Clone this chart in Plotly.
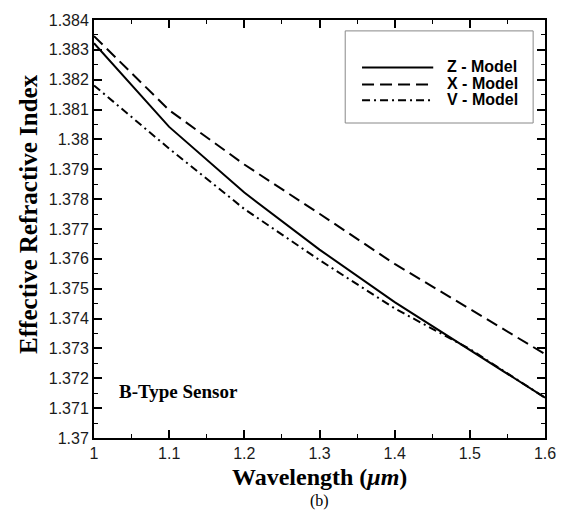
import plotly.graph_objects as go

wavelength = [1.0, 1.1, 1.2, 1.3, 1.4, 1.5, 1.6]
z_model = [1.38322, 1.38042, 1.37822, 1.37631, 1.37455, 1.37294, 1.37135]
x_model = [1.38346, 1.38098, 1.37916, 1.37751, 1.37583, 1.37431, 1.37281]
v_model = [1.38181, 1.37969, 1.37767, 1.37596, 1.37434, 1.37298, 1.37135]

series_names = ["Z - Model", "X - Model", "V - Model"]
series_dash = ["solid", "12px,6px", "8px,4px,2px,4px"]

x_ticks = [1.0, 1.1, 1.2, 1.3, 1.4, 1.5, 1.6]
x_ticklabels = ["1", "1.1", "1.2", "1.3", "1.4", "1.5", "1.6"]
y_ticks = [1.370, 1.371, 1.372, 1.373, 1.374, 1.375, 1.376, 1.377,
           1.378, 1.379, 1.380, 1.381, 1.382, 1.383, 1.384]
y_ticklabels = ["1.37", "1.371", "1.372", "1.373", "1.374", "1.375", "1.376", "1.377",
                "1.378", "1.379", "1.38", "1.381", "1.382", "1.383", "1.384"]

fig = go.Figure()
for name, ys, dash in zip(series_names, [z_model, x_model, v_model], series_dash):
    fig.add_trace(go.Scatter(x=wavelength, y=ys, mode="lines", name=name, showlegend=False,
                             line=dict(color="black", width=2, dash=dash)))

L, R, T, B = 94, 18, 16, 77
W, H = 568, 515
pw = W - L - R
ph = H - T - B

def px(xp):
    return (xp - L) / pw

def py(yp):
    return (H - B - yp) / ph

axis_common = dict(showline=True, linecolor="black", linewidth=2, mirror="allticks",
                   ticks="inside", ticklen=8, tickwidth=2, tickcolor="black",
                   showgrid=False, zeroline=False,
                   tickfont=dict(family="Liberation Sans, Arial", size=16, color="#1a1a1a"))

fig.update_xaxes(range=[1.0, 1.6], tickmode="array", tickvals=x_ticks, ticktext=x_ticklabels,
                 minor=dict(ticks="inside", ticklen=4, tickwidth=1, tickcolor="black", dtick=0.05),
                 **axis_common)
fig.update_yaxes(range=[1.370, 1.384], tickmode="array", tickvals=y_ticks, ticktext=y_ticklabels,
                 minor=dict(ticks="inside", ticklen=4, tickwidth=1, tickcolor="black", dtick=0.0005),
                 **axis_common)

# legend box (layout decoration)
shapes = [dict(type="rect", xref="paper", yref="paper",
               x0=px(348), x1=px(538), y0=py(120), y1=py(27),
               line=dict(color="#888888", width=1), fillcolor="white", layer="below")]
annotations = []
legend_rows = [64, 81, 97]
for name, dash, ry in zip(series_names, series_dash, legend_rows):
    shapes.append(dict(type="line", xref="paper", yref="paper",
                       x0=px(365), x1=px(437), y0=py(ry), y1=py(ry),
                       line=dict(color="black", width=2, dash=dash)))
    annotations.append(dict(text=name, xref="paper", yref="paper",
                            x=px(449), y=py(ry - 1), xanchor="left", yanchor="middle",
                            showarrow=False,
                            font=dict(family="Liberation Sans, Arial", size=16,
                                      color="black", weight="bold")))

annotations += [
    dict(text="<b>Effective Refractive Index</b>", xref="paper", yref="paper",
         x=px(27), y=py(212), textangle=-90, showarrow=False,
         xanchor="center", yanchor="middle",
         font=dict(family="Liberation Serif, Times New Roman", size=25, color="black")),
    dict(text="<b>Wavelength (<i>μm</i>)</b>", xref="paper", yref="paper",
         x=px(322), y=py(477), showarrow=False, xanchor="center", yanchor="middle",
         font=dict(family="Liberation Serif, Times New Roman", size=24, color="black")),
    dict(text="(b)", xref="paper", yref="paper",
         x=px(322), y=py(502), showarrow=False, xanchor="center", yanchor="middle",
         font=dict(family="Liberation Serif, Times New Roman", size=16, color="black")),
    dict(text="<b>B-Type Sensor</b>", xref="paper", yref="paper",
         x=px(117), y=py(391), xanchor="left", yanchor="middle", showarrow=False,
         font=dict(family="Liberation Serif, Times New Roman", size=19, color="black")),
]

fig.update_layout(
    width=W, height=H,
    margin=dict(l=L, r=R, t=T, b=B),
    paper_bgcolor="white", plot_bgcolor="white",
    showlegend=False,
    shapes=shapes,
    annotations=annotations,
)

fig.write_html("out.html")
